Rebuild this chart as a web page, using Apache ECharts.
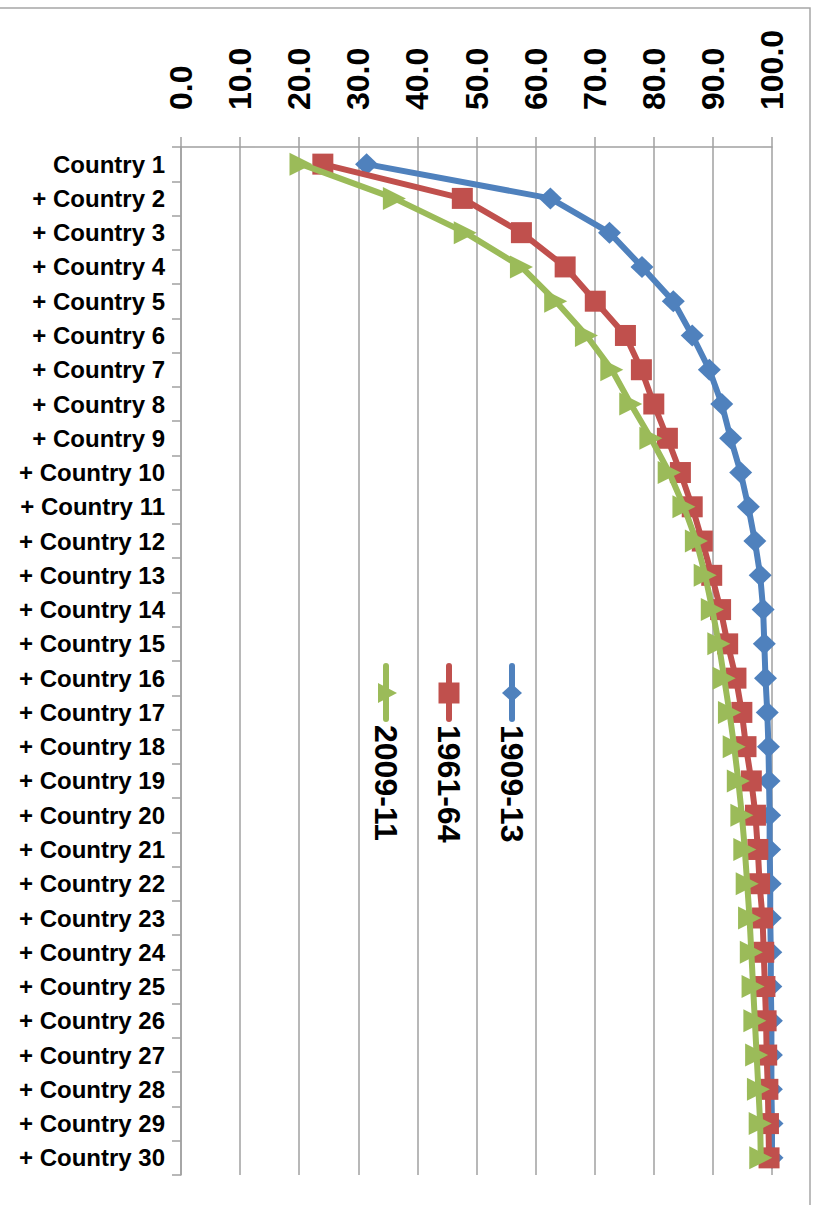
<!DOCTYPE html>
<html>
<head>
<meta charset="utf-8">
<script src="https://cdn.jsdelivr.net/npm/echarts@6/dist/echarts.min.js"></script>
<style>
html,body{margin:0;padding:0;background:#fff;}
#chart{width:821px;height:1205px;}
</style>
</head>
<body>
<div id="chart"></div>
<script>
// ---- data ----
const categories = ['Country 1'];
for (let i = 2; i <= 30; i++) categories.push('+ Country ' + i);
const xTicks = [0, 10, 20, 30, 40, 50, 60, 70, 80, 90, 100];
const seriesNames = ['1909-13', '1961-64', '2009-11'];
const s1909 = [31.4, 62.5, 72.5, 78.0, 83.3, 86.5, 89.4, 91.5, 93.0, 94.7, 96.0, 97.1, 98.0, 98.5, 98.7, 98.9, 99.2, 99.4, 99.5, 99.6, 99.6, 99.7, 99.7, 99.8, 99.8, 99.9, 99.9, 99.9, 100.0, 100.0];
const s1961 = [24.0, 47.6, 57.6, 65.0, 70.1, 75.2, 77.9, 80.0, 82.3, 84.5, 86.5, 88.2, 89.8, 91.3, 92.5, 93.9, 94.9, 95.6, 96.5, 97.2, 97.6, 97.9, 98.4, 98.6, 98.8, 99.0, 99.1, 99.3, 99.4, 99.5];
const s2009 = [20.3, 36.1, 48.1, 57.6, 63.4, 68.6, 72.9, 76.1, 79.5, 82.6, 85.1, 87.2, 88.7, 89.9, 91.0, 91.9, 92.8, 93.6, 94.3, 94.9, 95.4, 95.8, 96.2, 96.5, 96.8, 97.1, 97.4, 97.7, 98.0, 98.1];
const seriesData = [s1909, s1961, s2009];
const colors = ['#4F81BD', '#C0504D', '#9BBB59'];
const symbols = ['diamond', 'rect', 'triangle'];
const symbolSizes = [[23, 22], 21, 23];
const symbolRotates = [0, 0, -90];

const chart = echarts.init(document.getElementById('chart'), null, {renderer: 'svg'});
const FONT = '"Liberation Sans", Arial, sans-serif';
const GRID_COLOR = '#a0a0a0';

const series = seriesNames.map((name, i) => ({
  name: name,
  type: 'line',
  data: seriesData[i],
  color: colors[i],
  symbol: symbols[i],
  symbolSize: symbolSizes[i],
  symbolRotate: symbolRotates[i],
  showAllSymbol: true,
  lineStyle: {width: 6, color: colors[i]},
  itemStyle: {color: colors[i]},
  z: 2 + i
}));

// legend drawn vertically (rotated text)
const legendX = [512, 449, 386];
const legendGraphics = [];
seriesNames.forEach((name, i) => {
  const x = legendX[i];
  const y = 693;
  legendGraphics.push({
    type: 'line', shape: {x1: x, y1: 666, x2: x, y2: 719},
    style: {stroke: colors[i], lineWidth: 6, lineCap: 'round'}, z: 10
  });
  let sym;
  if (symbols[i] === 'diamond') {
    sym = {type: 'polygon', shape: {points: [[x, y - 9], [x + 10, y], [x, y + 9], [x - 10, y]]}};
  } else if (symbols[i] === 'rect') {
    sym = {type: 'rect', shape: {x: x - 10.5, y: y - 10.5, width: 21, height: 21}};
  } else {
    sym = {type: 'polygon', shape: {points: [[x - 8, y - 10], [x + 11, y], [x - 8, y + 10]]}};
  }
  sym.style = {fill: colors[i]};
  sym.z = 11;
  legendGraphics.push(sym);
  legendGraphics.push({
    type: 'text', x: x, y: 725, rotation: -Math.PI / 2, z: 12,
    style: {text: name, fill: '#000', font: 'bold 32px ' + FONT, align: 'left', verticalAlign: 'middle'}
  });
});

chart.setOption({
  animation: false,
  backgroundColor: '#fff',
  textStyle: {fontFamily: FONT},
  grid: {left: 181, right: 49, top: 147, bottom: 30, containLabel: false, outerBoundsMode: 'none'},
  xAxis: {
    type: 'value', position: 'top', min: xTicks[0], max: xTicks[xTicks.length - 1], interval: 10,
    axisLine: {show: true, lineStyle: {color: GRID_COLOR, width: 1.5}},
    axisTick: {show: true, length: 10, lineStyle: {color: GRID_COLOR, width: 1.5}},
    splitLine: {show: true, lineStyle: {color: GRID_COLOR, width: 1.5}},
    axisLabel: {
      rotate: -90, margin: 37, color: '#000', fontSize: 32, fontWeight: 'bold', fontFamily: FONT,
      formatter: v => v.toFixed(1)
    }
  },
  yAxis: {
    type: 'category', inverse: true, data: categories, boundaryGap: true,
    axisLine: {show: true, lineStyle: {color: GRID_COLOR, width: 1.5}},
    axisTick: {show: true, length: 9, alignWithLabel: false, lineStyle: {color: GRID_COLOR, width: 1.5}},
    splitLine: {show: false},
    axisLabel: {margin: 16, color: '#000', fontSize: 24, fontWeight: 'bold', fontFamily: FONT, interval: 0}
  },
  series: series,
  graphic: [
    {type: 'rect', shape: {x: -2, y: 8, width: 812, height: 1210},
     style: {fill: 'none', stroke: '#a6a6a6', lineWidth: 1.5}, z: -1, silent: true}
  ].concat(legendGraphics)
});
</script>
</body>
</html>
